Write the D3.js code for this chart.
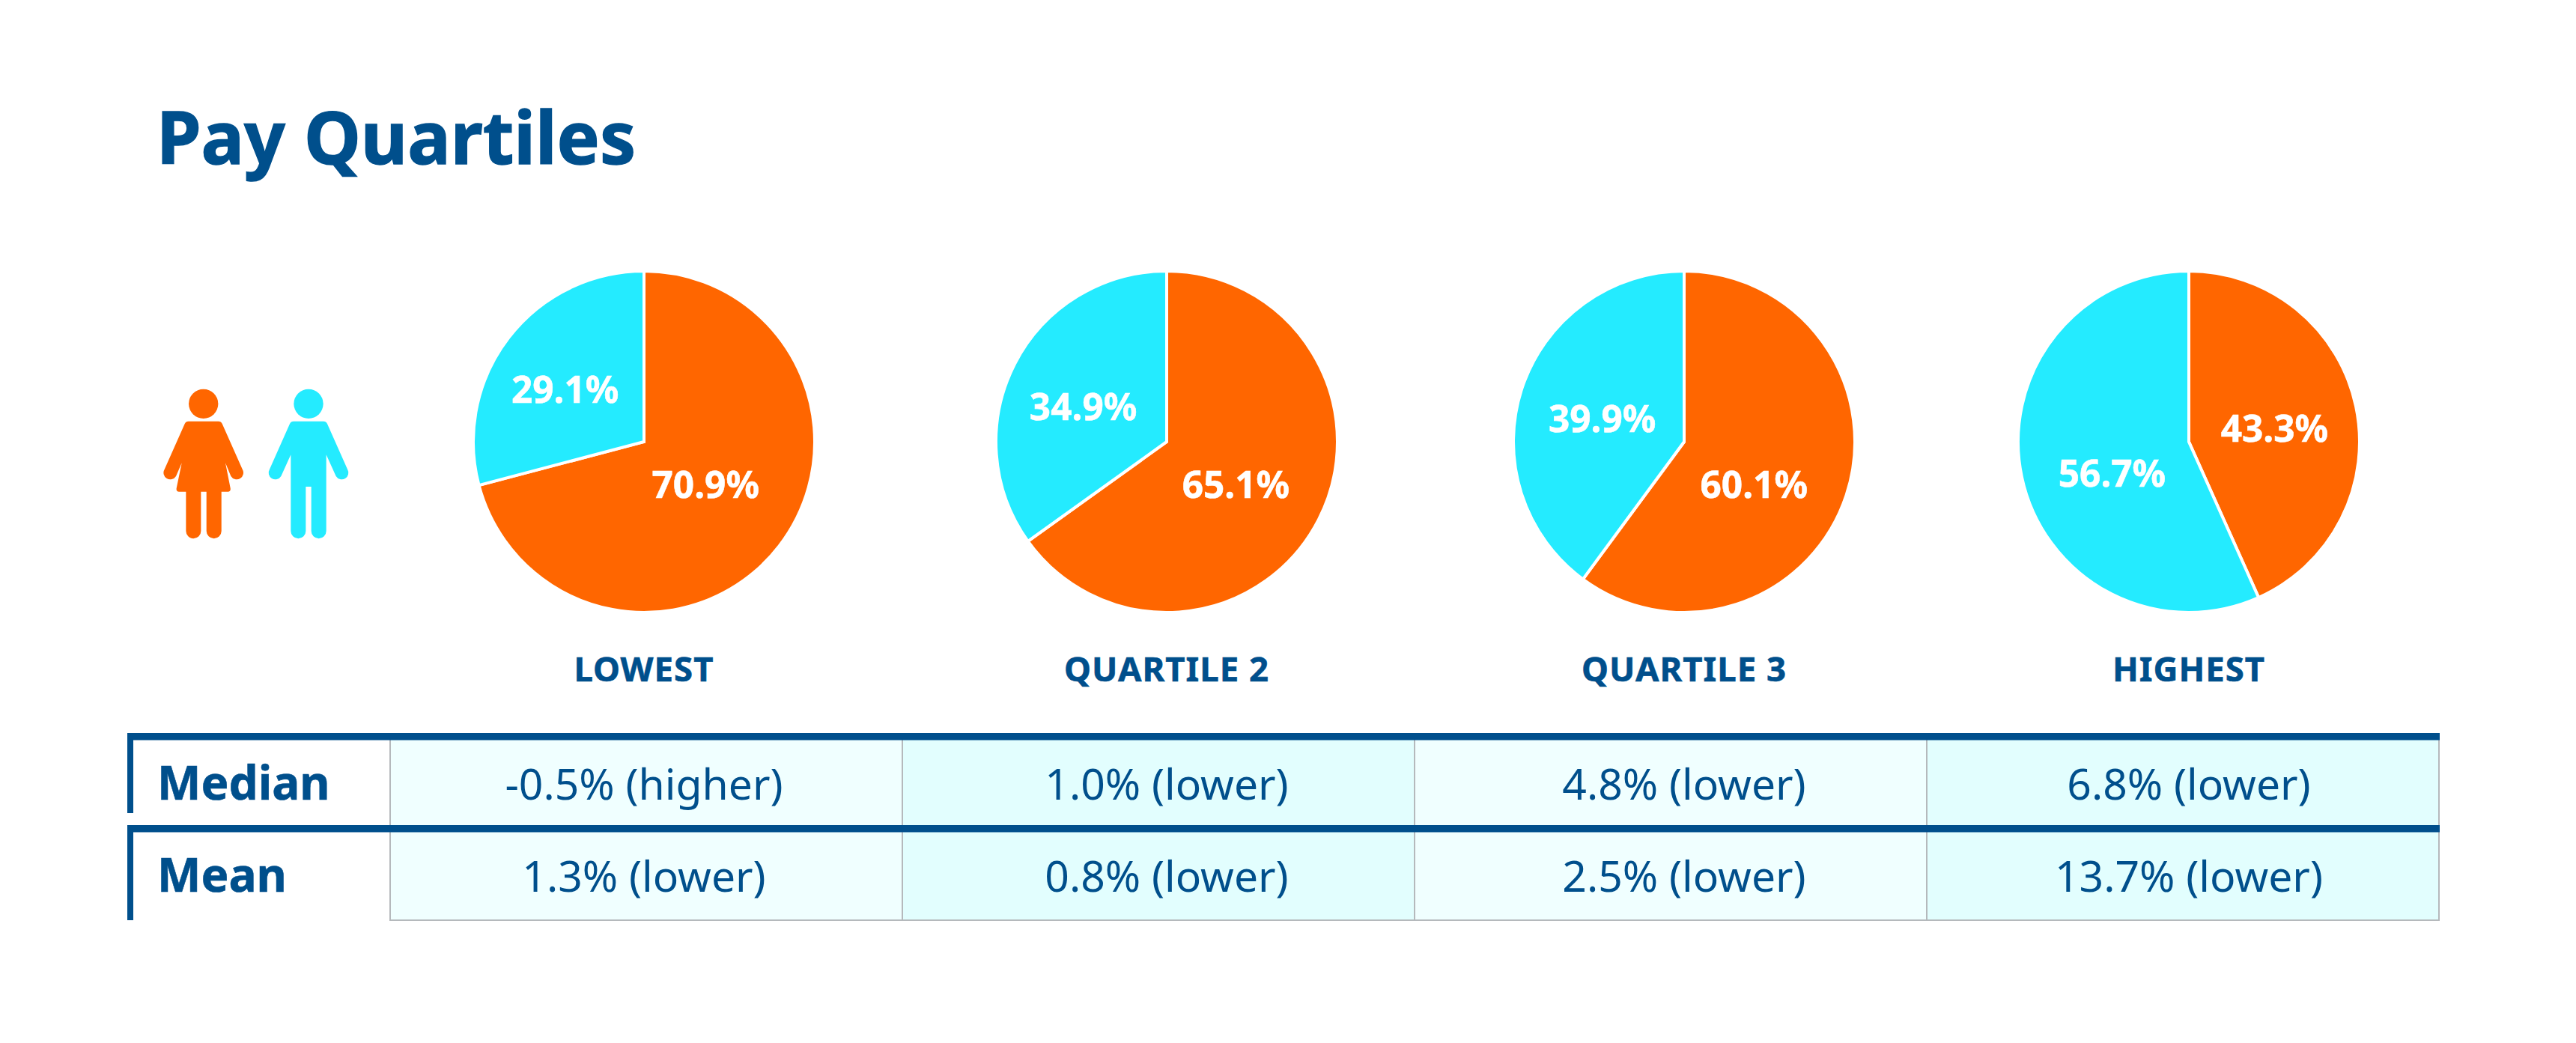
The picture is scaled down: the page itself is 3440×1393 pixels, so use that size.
<!DOCTYPE html>
<html lang="en">
<head>
<meta charset="UTF-8">
<title>Pay Quartiles</title>
<script src="https://d3js.org/d3.v7.min.js"></script>
<style>
html, body { margin: 0; background: #fff; }
svg { display: block; }
text { font-family: "Noto Sans", sans-serif; fill: #004f8c; }
.heavy { font-weight: 700; stroke: #004f8c; stroke-width: 0.6px; }
.title { stroke-width: 1.4px; }
.share { fill: #fff; stroke: #fff; }
</style>
</head>
<body>
<div id="chart"></div>
<script>
const quartiles = ["LOWEST", "QUARTILE 2", "QUARTILE 3", "HIGHEST"];
const femaleShare = [70.9, 65.1, 60.1, 43.3];
const maleShare = [29.1, 34.9, 39.9, 56.7];
const rowNames = ["Median", "Mean"];
const medianGap = [-0.5, 1.0, 4.8, 6.8];
const meanGap = [1.3, 0.8, 2.5, 13.7];

// layout
const width = 3440, height = 1393;
const navy = "#004f8c", orange = "#ff6600", cyan = "#24ebff";
const pieX = [860, 1558, 2249, 2923];
const pieY = 590, radius = 228;
// label nudges from the slice centroid, [female, male] per pie
const nudges = [
    [[-8, -12], [-15, 0]],
    [[-9, 5], [-10, 5]],
    [[-15, 22], [-1, 5]],
    [[3, 6], [9, 18]]
];
const rowTop = [980, 1103], rowBottom = [1103, 1229];

const svg = d3.select("#chart").append("svg")
    .attr("width", width)
    .attr("height", height);

svg.append("text")
    .attr("class", "heavy title")
    .attr("x", 209)
    .attr("y", 219)
    .attr("font-size", 96)
    .text("Pay Quartiles");

// icons, path units are 1/3 px with the head centre at 0,0
const womanPath = "M-60,70H60Q70,70 75,80L156,262A25,25 0 0 1 110,290L88,237L108,338Q110,352 98,352H72V510A30,30 0 0 1 12,510V352H-10V510A30,30 0 0 1 -70,510V352H-98Q-110,352 -108,338L-87,237L-110,290A25,25 0 0 1 -156,262L-75,80Q-70,70 -60,70Z";
const manPath = "M-60,70H60Q70,70 75,80L156,262A25,25 0 0 1 110,290L71,204V510A30,30 0 0 1 11,510V332H-11V510A30,30 0 0 1 -71,510V204L-110,290A25,25 0 0 1 -156,262L-75,80Q-70,70 -60,70Z";
[[271.7, orange, womanPath], [412, cyan, manPath]].forEach(([x, fill, d]) => {
    const g = svg.append("g")
        .attr("transform", `translate(${x},539.3) scale(${1 / 3})`)
        .attr("fill", fill);
    g.append("circle").attr("r", 59);
    g.append("path").attr("d", d);
});

// pies
const pie = d3.pie().sort(null).value(d => d.value);
const arc = d3.arc().innerRadius(0).outerRadius(radius);

quartiles.forEach((q, i) => {
    const g = svg.append("g")
        .attr("transform", `translate(${pieX[i]},${pieY})`);
    const slices = pie([
        { value: femaleShare[i], color: orange },
        { value: maleShare[i], color: cyan }
    ]);
    g.selectAll("path")
        .data(slices)
        .join("path")
        .attr("d", arc)
        .attr("fill", d => d.data.color)
        .attr("stroke", "#fff")
        .attr("stroke-width", 4);
    g.selectAll("text.share")
        .data(slices)
        .join("text")
        .attr("class", "heavy share")
        .attr("transform", (d, j) => {
            const c = arc.centroid(d);
            return `translate(${c[0] + nudges[i][j][0]},${c[1] + nudges[i][j][1]})`;
        })
        .attr("text-anchor", "middle")
        .attr("dy", "0.36em")
        .attr("font-size", 49.5)
        .text(d => d.data.value.toFixed(1) + "%");
    g.append("text")
        .attr("class", "heavy")
        .attr("y", 320)
        .attr("text-anchor", "middle")
        .attr("font-size", 45.5)
        .attr("letter-spacing", 1)
        .text(q);
});

// table
const x = d3.scaleBand().domain(quartiles).range([521, 3257]);
const cellFill = ["#f0ffff", "#e2fefe", "#f0ffff", "#e2fefe"];
const gapLabel = v => `${v.toFixed(1)}% (${v < 0 ? "higher" : "lower"})`;

[medianGap, meanGap].forEach((values, r) => {
    const g = svg.append("g");
    g.selectAll("rect")
        .data(values)
        .join("rect")
        .attr("x", (d, i) => x(quartiles[i]))
        .attr("y", rowTop[r])
        .attr("width", x.bandwidth())
        .attr("height", rowBottom[r] - rowTop[r])
        .attr("fill", (d, i) => cellFill[i])
        .attr("stroke", "#b5b9bc")
        .attr("stroke-width", 2);
    // the cell text lines up with the pies, not the cell middles
    g.selectAll("text")
        .data(values)
        .join("text")
        .attr("x", (d, i) => pieX[i])
        .attr("y", rowTop[r] + 88)
        .attr("text-anchor", "middle")
        .attr("font-size", 57)
        .text(gapLabel);
});

rowNames.forEach((name, r) => {
    svg.append("rect")
        .attr("x", 170).attr("y", rowTop[r] - 1)
        .attr("width", 3257 - 170 + 1).attr("height", 9.5)
        .attr("fill", navy);
    svg.append("rect")
        .attr("x", 170).attr("y", rowTop[r] - 1)
        .attr("width", 8).attr("height", (r === 0 ? 1086 : 1229) - rowTop[r] + 1)
        .attr("fill", navy);
    svg.append("text")
        .attr("class", "heavy")
        .attr("x", 210)
        .attr("y", rowTop[r] + 88)
        .attr("font-size", 62)
        .text(name);
});
</script>
</body>
</html>
